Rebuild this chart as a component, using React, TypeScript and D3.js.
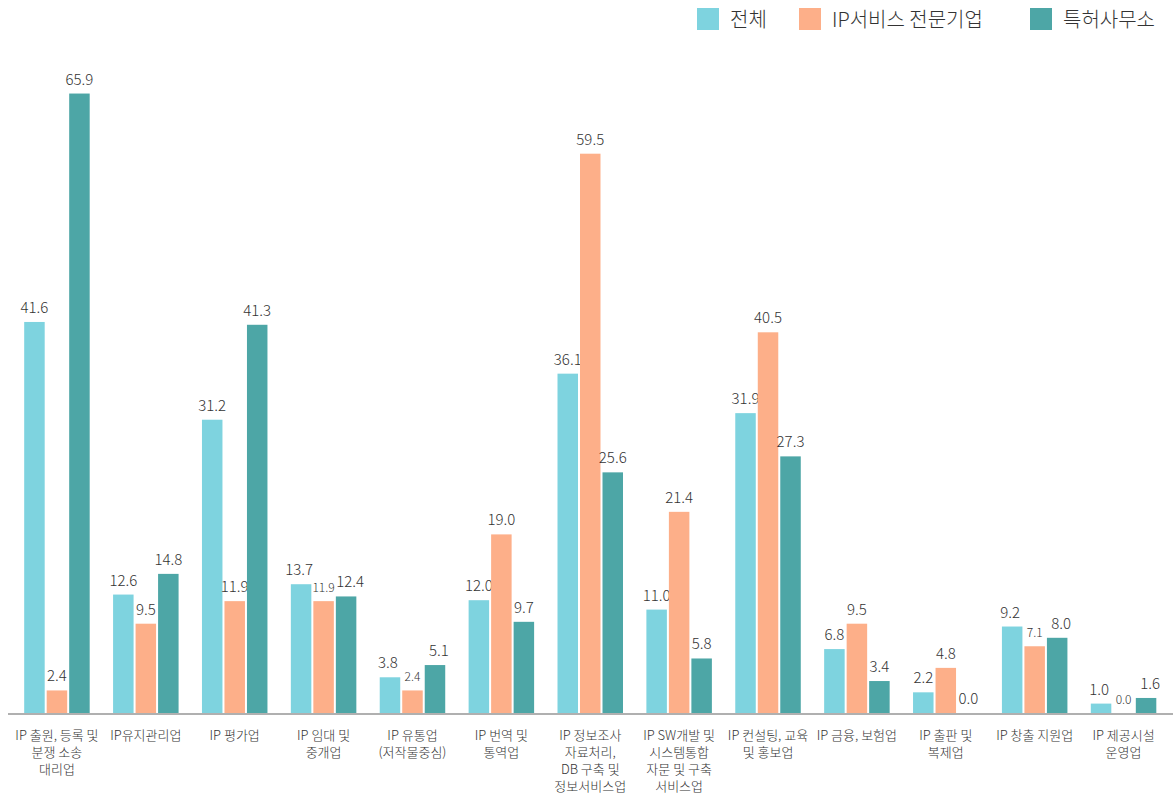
import React from "react";
import * as d3 from "d3";

const categories: string[][] = [
  ["IP 출원, 등록 및", "분쟁 소송", "대리업"],
  ["IP유지관리업"],
  ["IP 평가업"],
  ["IP 임대 및", "중개업"],
  ["IP 유통업", "(저작물중심)"],
  ["IP 번역 및", "통역업"],
  ["IP 정보조사", "자료처리,", "DB 구축 및", "정보서비스업"],
  ["IP SW개발 및", "시스템통합", "자문 및 구축", "서비스업"],
  ["IP 컨설팅, 교육", "및 홍보업"],
  ["IP 금융, 보험업"],
  ["IP 출판 및", "복제업"],
  ["IP 창출 지원업"],
  ["IP 제공시설", "운영업"],
];

const seriesNames = ["전체", "IP서비스 전문기업", "특허사무소"];
const total = [41.6, 12.6, 31.2, 13.7, 3.8, 12.0, 36.1, 11.0, 31.9, 6.8, 2.2, 9.2, 1.0];
const ipService = [2.4, 9.5, 11.9, 11.9, 2.4, 19.0, 59.5, 21.4, 40.5, 9.5, 4.8, 7.1, 0.0];
const patentOffice = [65.9, 14.8, 41.3, 12.4, 5.1, 9.7, 25.6, 5.8, 27.3, 3.4, 0.0, 8.0, 1.6];
const colors = ["#7ED3DF", "#FDAF89", "#4DA6A6"];

const W = 1173;
const H = 794;
const FONT = "'Noto Sans CJK KR', 'Noto Sans', sans-serif";

export default function App() {
  const series = [total, ipService, patentOffice];
  const baseline = 713;
  const x = d3
    .scaleBand<number>()
    .domain(d3.range(categories.length))
    .range([12.5, 1168])
    .paddingInner(0)
    .paddingOuter(0);
  const y = d3.scaleLinear().domain([0, 70]).range([baseline, baseline - 70 * 9.4]);
  const barW = 20.5;
  const gap = 2;
  const offsets = [-(barW + gap), 0, barW + gap];

  const legendItems = [
    { sq: 697, tx: 730 },
    { sq: 799, tx: 832 },
    { sq: 1030, tx: 1063 },
  ];

  return (
    <svg
      width={W}
      height={H}
      style={{ position: "absolute", left: 0, top: 0, background: "#fff" }}
      fontFamily={FONT}
      fontWeight={300}
    >
      {/* legend */}
      {seriesNames.map((n, i) => (
        <g key={n}>
          <rect x={legendItems[i].sq} y={8} width={22} height={22} fill={colors[i]} />
          <text x={legendItems[i].tx} y={27} fontSize={20} fill="#333">
            {n}
          </text>
        </g>
      ))}

      {/* bars */}
      {categories.map((_, ci) => {
        const cx = (x(ci) as number) + x.bandwidth() / 2;
        const vals = series.map((s) => s[ci]);
        const crowded =
          Math.abs(y(vals[1]) - y(vals[0])) < 15 || Math.abs(y(vals[1]) - y(vals[2])) < 15;
        return (
          <g key={ci}>
            {series.map((s, si) => {
              const v = s[ci];
              const bx = cx + offsets[si] - barW / 2;
              const small = crowded && si === 1;
              const shift = crowded ? (si === 0 ? -2 : si === 2 ? 4 : 0) : 0;
              return (
                <g key={si}>
                  <rect
                    x={bx}
                    y={y(v)}
                    width={barW}
                    height={baseline - y(v)}
                    fill={colors[si]}
                  />
                  <text
                    x={cx + offsets[si] + shift}
                    y={y(v) - 9}
                    textAnchor="middle"
                    fontSize={small ? 12 : 15}
                    fill="#333"
                  >
                    {v.toFixed(1)}
                  </text>
                </g>
              );
            })}
          </g>
        );
      })}

      {/* axis */}
      <line x1={8} x2={1173} y1={baseline + 1} y2={baseline + 1} stroke="#b0b0b0" strokeWidth={2} />

      {/* category labels */}
      {categories.map((lines, ci) => {
        const cx = (x(ci) as number) + x.bandwidth() / 2;
        return (
          <text key={ci} textAnchor="middle" fontSize={13} fill="#333">
            {lines.map((l, li) => (
              <tspan key={li} x={cx} y={740 + li * 17}>
                {l}
              </tspan>
            ))}
          </text>
        );
      })}
    </svg>
  );
}
